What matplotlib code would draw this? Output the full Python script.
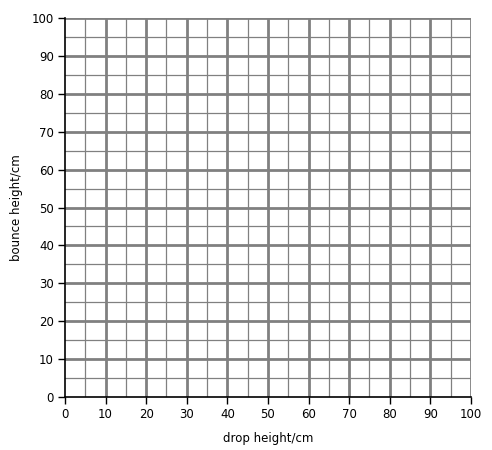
import matplotlib

matplotlib.use("Agg")

import matplotlib.pyplot as plt
import numpy as np

X_MAJOR = np.arange(0, 101, 10)
Y_MAJOR = np.arange(0, 101, 10)
X_MINOR = np.arange(5, 100, 10)
Y_MINOR = np.arange(5, 100, 10)
X_LABEL = "drop height/cm"
Y_LABEL = "bounce height/cm"

GRID = "#808080"

plt.rcParams.update({"font.family": ["DejaVu Sans"], "font.size": 8})

fig = plt.figure(figsize=(4.92, 4.5), dpi=100)
ax = fig.add_axes([0.1321, 0.1178, 0.825, 0.842])
ax.set_xlim(0, 100)
ax.set_ylim(0, 100)

for v in X_MINOR:
    ax.axvline(v, color=GRID, lw=0.9, zorder=1)
for v in Y_MINOR:
    ax.axhline(v, color=GRID, lw=0.9, zorder=1)
for v in X_MAJOR[1:]:
    ax.axvline(v, color=GRID, lw=2.0, zorder=2)
for v in Y_MAJOR[1:]:
    ax.axhline(v, color=GRID, lw=2.0, zorder=2)

ax.set_xticks(X_MAJOR)
ax.set_yticks(Y_MAJOR)
ax.tick_params(length=5, width=1, color="black", pad=3, labelsize=8.5)
ax.spines[["top", "right"]].set_visible(False)
ax.spines[["left", "bottom"]].set_linewidth(1.2)
ax.spines[["left", "bottom"]].set_zorder(3)

ax.set_xlabel(X_LABEL, fontsize=8.5, labelpad=8)
ax.set_ylabel(Y_LABEL, fontsize=8.5, labelpad=6)

fig.savefig("out.png", dpi=100)
